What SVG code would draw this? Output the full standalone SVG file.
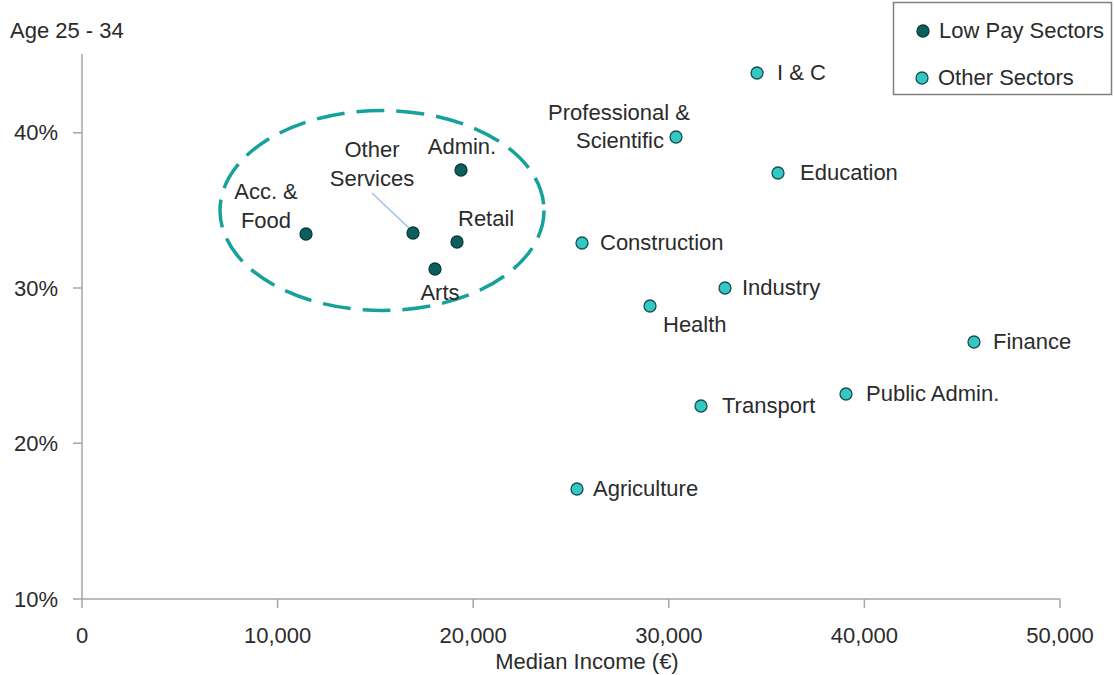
<svg xmlns="http://www.w3.org/2000/svg" width="1115" height="675" viewBox="0 0 1115 675">
<style>
text{font-family:"Liberation Sans",Arial,sans-serif;font-size:22px;fill:#2b2b2b}
.ax{stroke:#a6a6a6;stroke-width:1.5;fill:none}
.low{fill:#0c5f5c;stroke:#063c3a;stroke-width:1.3}
.oth{fill:#30c9c5;stroke:#1d4d4d;stroke-width:1.3}
.m{text-anchor:middle}
.e{text-anchor:end}
</style>
<rect width="1115" height="675" fill="#fff"/>
<g id="axes">
<path class="ax" d="M82 54V599H1060M73 132.7H82M73 288H82M73 443.3H82M73 599H82M82 599V608M277.6 599V608M473.2 599V608M668.8 599V608M864.4 599V608M1060 599V608"/>
<text x="58" y="140" class="e">40%</text>
<text x="58" y="296" class="e">30%</text>
<text x="58" y="451" class="e">20%</text>
<text x="58" y="607" class="e">10%</text>
<text x="82" y="643" class="m">0</text>
<text x="277.6" y="643" class="m">10,000</text>
<text x="473.2" y="643" class="m">20,000</text>
<text x="668.8" y="643" class="m">30,000</text>
<text x="864.4" y="643" class="m">40,000</text>
<text x="1060" y="643" class="m">50,000</text>
<text x="587" y="669" class="m">Median Income (€)</text>
<text x="10" y="38">Age 25 - 34</text>
</g>
<g id="highlight">
<ellipse cx="382" cy="210.5" rx="162" ry="100" fill="none" stroke="#16a19b" stroke-width="3.5" stroke-dasharray="28 12"/>
</g>
<g id="connectors">
<line x1="372" y1="193" x2="412" y2="231" stroke="#9dc3e6" stroke-width="1.5"/>
</g>
<g id="acc-food"><circle class="low" cx="306" cy="234" r="6"/><text x="266" y="199" class="m">Acc. &amp;</text><text x="266" y="228" class="m">Food</text></g>
<g id="other-services"><circle class="low" cx="413" cy="233" r="6"/><text x="372" y="157" class="m">Other</text><text x="372" y="186" class="m">Services</text></g>
<g id="admin"><circle class="low" cx="461" cy="170" r="6"/><text x="462" y="154" class="m">Admin.</text></g>
<g id="retail"><circle class="low" cx="457" cy="242" r="6"/><text x="458" y="226">Retail</text></g>
<g id="arts"><circle class="low" cx="435" cy="269" r="6"/><text x="440" y="300" class="m">Arts</text></g>
<g id="ic"><circle class="oth" cx="757" cy="73" r="6"/><text x="777" y="80">I &amp; C</text></g>
<g id="prof-sci"><circle class="oth" cx="676" cy="137" r="6"/><text x="619" y="120" class="m">Professional &amp;</text><text x="620" y="148" class="m">Scientific</text></g>
<g id="education"><circle class="oth" cx="778" cy="173" r="6"/><text x="800" y="180">Education</text></g>
<g id="construction"><circle class="oth" cx="582" cy="243" r="6"/><text x="600" y="250">Construction</text></g>
<g id="industry"><circle class="oth" cx="725" cy="288" r="6"/><text x="742" y="295">Industry</text></g>
<g id="health"><circle class="oth" cx="650" cy="306" r="6"/><text x="663" y="332">Health</text></g>
<g id="finance"><circle class="oth" cx="974" cy="342" r="6"/><text x="993" y="349">Finance</text></g>
<g id="public-admin"><circle class="oth" cx="846" cy="394" r="6"/><text x="866" y="401">Public Admin.</text></g>
<g id="transport"><circle class="oth" cx="701" cy="406" r="6"/><text x="722" y="413">Transport</text></g>
<g id="agriculture"><circle class="oth" cx="577" cy="489" r="6"/><text x="593" y="496">Agriculture</text></g>
<g id="legend">
<rect x="893.5" y="2.5" width="218" height="92" fill="#fff" stroke="#808080" stroke-width="1.5"/>
<circle class="low" cx="923" cy="31" r="6"/><text x="939" y="38">Low Pay Sectors</text>
<circle class="oth" cx="922" cy="78" r="6"/><text x="938" y="85">Other Sectors</text>
</g>
</svg>
